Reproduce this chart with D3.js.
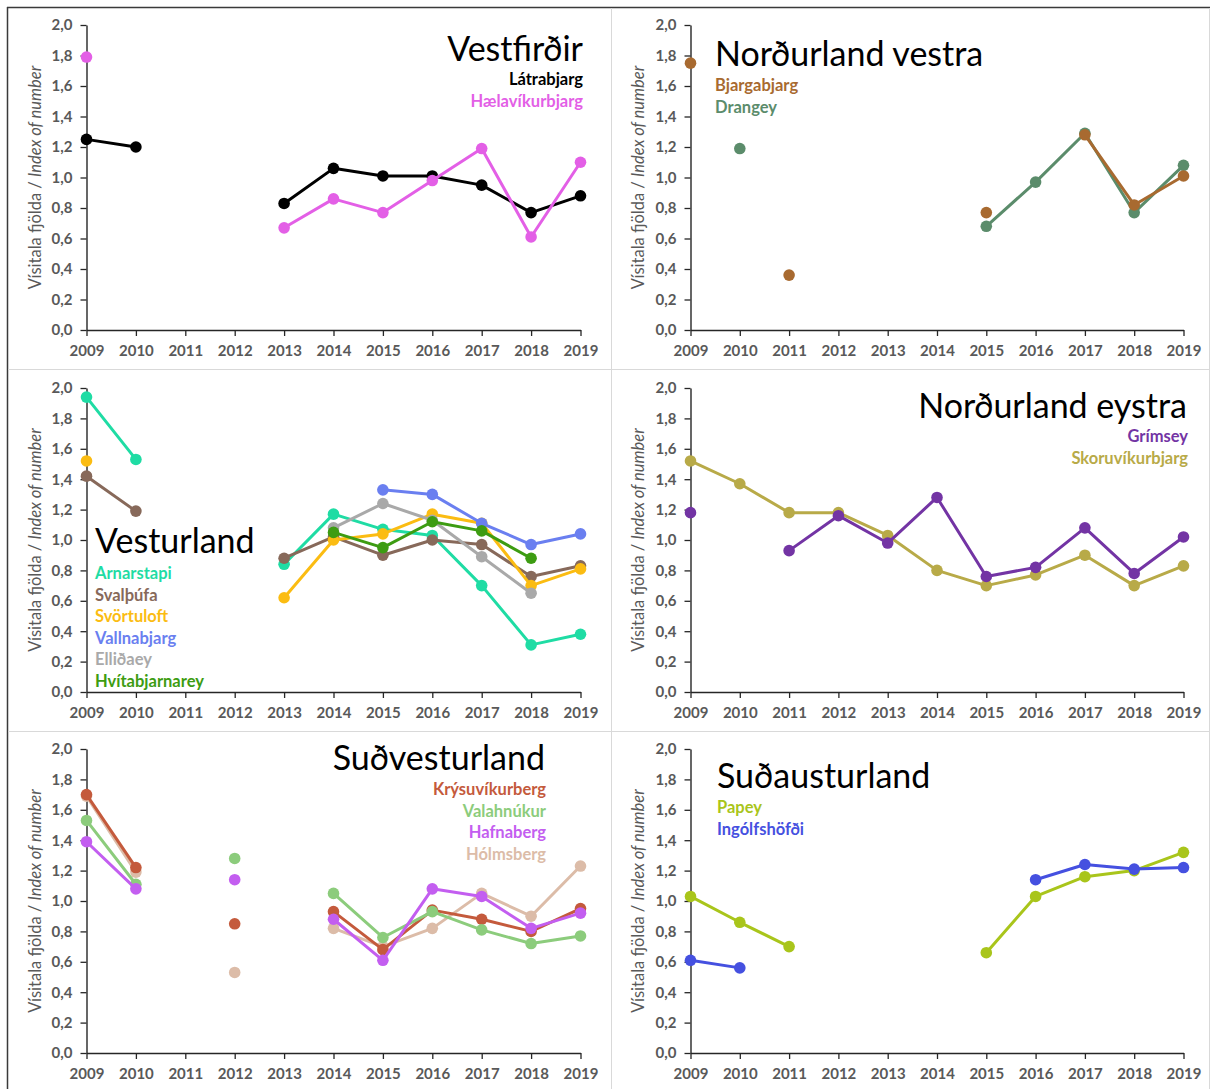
<!DOCTYPE html>
<html>
<head>
<meta charset="utf-8">
<script src="https://cdn.jsdelivr.net/npm/d3@7"></script>
<style>
  html, body { margin: 0; padding: 0; background: #fff; }
  svg { display: block; font-family: Lato, "Open Sans", sans-serif; }
</style>
</head>
<body>
<svg id="chart" width="1210" height="1089"></svg>
<script>
// Years on the x axis and index ticks on the y axis
const years = [2009, 2010, 2011, 2012, 2013, 2014, 2015, 2016, 2017, 2018, 2019];
const yTicks = [0, 0.2, 0.4, 0.6, 0.8, 1.0, 1.2, 1.4, 1.6, 1.8, 2.0];

// Vestfirðir
const latrabjarg     = [1.25, 1.20, null, null, 0.83, 1.06, 1.01, 1.01, 0.95, 0.77, 0.88];
const haelavikurbjarg = [1.79, null, null, null, 0.67, 0.86, 0.77, 0.98, 1.19, 0.61, 1.10];

// Norðurland vestra
const bjargabjarg = [1.75, null, 0.36, null, null, null, 0.77, null, 1.28, 0.82, 1.01];
const drangey     = [null, 1.19, null, null, null, null, 0.68, 0.97, 1.29, 0.77, 1.08];

// Vesturland
const arnarstapi     = [1.94, 1.53, null, null, 0.84, 1.17, 1.07, 1.03, 0.70, 0.31, 0.38];
const svalthufa      = [1.42, 1.19, null, null, 0.88, 1.02, 0.90, 1.00, 0.97, 0.76, 0.83];
const svortuloft     = [1.52, null, null, null, 0.62, 1.00, 1.04, 1.17, 1.11, 0.70, 0.81];
const vallnabjarg    = [null, null, null, null, null, null, 1.33, 1.30, 1.11, 0.97, 1.04];
const ellidaey       = [null, null, null, null, null, 1.08, 1.24, 1.13, 0.89, 0.65, null];
const hvitabjarnarey = [null, null, null, null, null, 1.05, 0.95, 1.12, 1.06, 0.88, null];

// Norðurland eystra
const grimsey         = [1.18, null, 0.93, 1.16, 0.98, 1.28, 0.76, 0.82, 1.08, 0.78, 1.02];
const skoruvikurbjarg = [1.52, 1.37, 1.18, 1.18, 1.03, 0.80, 0.70, 0.77, 0.90, 0.70, 0.83];

// Suðvesturland
const krysuvikurberg = [1.70, 1.22, null, 0.85, null, 0.93, 0.68, 0.94, 0.88, 0.80, 0.95];
const valahnukur     = [1.53, 1.11, null, 1.28, null, 1.05, 0.76, 0.93, 0.81, 0.72, 0.77];
const hafnaberg      = [1.39, 1.08, null, 1.14, null, 0.88, 0.61, 1.08, 1.03, 0.82, 0.92];
const holmsberg      = [1.69, 1.19, null, 0.53, null, 0.82, 0.70, 0.82, 1.05, 0.90, 1.23];

// Suðausturland
const papey        = [1.03, 0.86, 0.70, null, null, null, 0.66, 1.03, 1.16, 1.20, 1.32];
const ingolfshofdi = [0.61, 0.56, null, null, null, null, null, 1.14, 1.24, 1.21, 1.22];

// Panel definitions: region title and its colonies (drawn in order, later on top)
const panels = [
  { title: "Vestfirðir", col: 0, row: 0, align: "end",
    series: [["Látrabjarg", latrabjarg, "#000000"],
             ["Hælavíkurbjarg", haelavikurbjarg, "#e35fe6"]] },
  { title: "Norðurland vestra", col: 1, row: 0, align: "start",
    series: [["Drangey", drangey, "#5b8c6b"],
             ["Bjargabjarg", bjargabjarg, "#a86a30"]],
    legendOrder: ["Bjargabjarg", "Drangey"] },
  { title: "Vesturland", col: 0, row: 1, align: "start",
    series: [["Arnarstapi", arnarstapi, "#1fdca4"],
             ["Svalþúfa", svalthufa, "#87695a"],
             ["Svörtuloft", svortuloft, "#fbbc12"],
             ["Vallnabjarg", vallnabjarg, "#6a7ff0"],
             ["Elliðaey", ellidaey, "#a9a9a9"],
             ["Hvítabjarnarey", hvitabjarnarey, "#3d9c12"]] },
  { title: "Norðurland eystra", col: 1, row: 1, align: "end",
    series: [["Skoruvíkurbjarg", skoruvikurbjarg, "#b8aa48"],
             ["Grímsey", grimsey, "#7334a4"]],
    legendOrder: ["Grímsey", "Skoruvíkurbjarg"] },
  { title: "Suðvesturland", col: 0, row: 2, align: "end",
    series: [["Hólmsberg", holmsberg, "#dcbca8"],
             ["Krýsuvíkurberg", krysuvikurberg, "#c45a3c"],
             ["Valahnúkur", valahnukur, "#8ccc7c"],
             ["Hafnaberg", hafnaberg, "#c35ef0"]],
    legendOrder: ["Krýsuvíkurberg", "Valahnúkur", "Hafnaberg", "Hólmsberg"] },
  { title: "Suðausturland", col: 1, row: 2, align: "start",
    series: [["Papey", papey, "#a9c51b"],
             ["Ingólfshöfði", ingolfshofdi, "#4550e0"]] }
];

// Plot-area geometry for each column / row
const colX = [[86.5, 580.5], [690.5, 1183.5]];
const rowY = [[25, 330], [388, 692], [749, 1053]];
const yTitleX = [37, 640];

// Text placement inside each panel (title baseline, legend anchor and line step)
const textPos = [
  { tx: 583, ty: 61, lx: 583, ly: 85 },
  { tx: 715, ty: 66, lx: 715, ly: 91 },
  { tx: 95, ty: 553, lx: 95, ly: 579 },
  { tx: 1187, ty: 418, lx: 1188, ly: 442 },
  { tx: 545, ty: 770, lx: 546, ly: 795 },
  { tx: 717, ty: 788, lx: 717, ly: 813 }
];

const svg = d3.select("#chart");
const comma = d => d3.format(".1f")(d).replace(".", ",");
const axisColor = "#262626";
const labelColor = "#595959";

// Frame lines
svg.append("line").attr("x1", 7).attr("x2", 1210).attr("y1", 7.5).attr("y2", 7.5)
  .attr("stroke", "#3a3a3a").attr("stroke-width", 1.5);
svg.append("line").attr("x1", 7.5).attr("x2", 7.5).attr("y1", 7).attr("y2", 1089)
  .attr("stroke", "#3a3a3a").attr("stroke-width", 1.5);
svg.append("line").attr("x1", 611.5).attr("x2", 611.5).attr("y1", 8).attr("y2", 1089)
  .attr("stroke", "#d9d9d9").attr("stroke-width", 1);
svg.append("line").attr("x1", 1209.5).attr("x2", 1209.5).attr("y1", 8).attr("y2", 1089)
  .attr("stroke", "#d9d9d9").attr("stroke-width", 1);
[369.5, 731.5].forEach(y => {
  svg.append("line").attr("x1", 8).attr("x2", 1210).attr("y1", y).attr("y2", y)
    .attr("stroke", "#d9d9d9").attr("stroke-width", 1);
});

panels.forEach((p, i) => {
  const [x0, x1] = colX[p.col];
  const [y0, y1] = rowY[p.row];
  const x = d3.scaleLinear().domain([years[0], years[years.length - 1]]).range([x0, x1]);
  const y = d3.scaleLinear().domain([0, 2]).range([y1, y0]);
  const g = svg.append("g");

  // Axes
  const ya = g.append("g").attr("transform", `translate(${x0},0)`)
    .call(d3.axisLeft(y).tickValues(yTicks).tickFormat(comma).tickSize(6).tickPadding(8).tickSizeOuter(0));
  const xa = g.append("g").attr("transform", `translate(0,${y1})`)
    .call(d3.axisBottom(x).tickValues(years).tickFormat(d3.format("d")).tickSize(6).tickPadding(9).tickSizeOuter(0));
  [ya, xa].forEach(a => {
    a.select(".domain").attr("stroke", axisColor).attr("stroke-width", 1.4);
    a.selectAll(".tick line").attr("stroke", axisColor).attr("stroke-width", 1.3);
    a.selectAll(".tick text").attr("fill", labelColor).attr("font-size", 15)
      .attr("font-weight", 700).attr("font-family", "Lato, sans-serif");
  });

  // Y-axis title
  const yt = g.append("text")
    .attr("transform", `translate(${yTitleX[p.col]},${(y0 + y1) / 2}) rotate(-90)`)
    .attr("text-anchor", "middle").attr("dominant-baseline", "middle")
    .attr("fill", labelColor).attr("font-size", 16.5);
  yt.append("tspan").text("Vísitala fjölda / ");
  yt.append("tspan").attr("font-style", "italic").text("Index of number");

  // Series lines and markers
  const line = d3.line()
    .defined(d => d.v != null)
    .x(d => x(d.year)).y(d => y(d.v));
  p.series.forEach(([name, vals, color]) => {
    const pts = years.map((yr, k) => ({ year: yr, v: vals[k] }));
    g.append("path").datum(pts)
      .attr("d", line).attr("fill", "none")
      .attr("stroke", color).attr("stroke-width", 3).attr("stroke-linejoin", "round");
    g.selectAll(null).data(pts.filter(d => d.v != null)).join("circle")
      .attr("cx", d => x(d.year)).attr("cy", d => y(d.v))
      .attr("r", 5.8).attr("fill", color);
  });

  // Region title and colony legend
  const tp = textPos[i];
  g.append("text").attr("x", tp.tx).attr("y", tp.ty)
    .attr("text-anchor", p.align).attr("font-size", 34).attr("fill", "#000").text(p.title);
  const order = p.legendOrder || p.series.map(s => s[0]);
  order.forEach((name, k) => {
    const s = p.series.find(d => d[0] === name);
    g.append("text").attr("x", tp.lx).attr("y", tp.ly + k * 21.6)
      .attr("text-anchor", p.align).attr("font-size", 16.5).attr("font-weight", 700)
      .attr("fill", s[2]).text(name);
  });
});
</script>
</body>
</html>
